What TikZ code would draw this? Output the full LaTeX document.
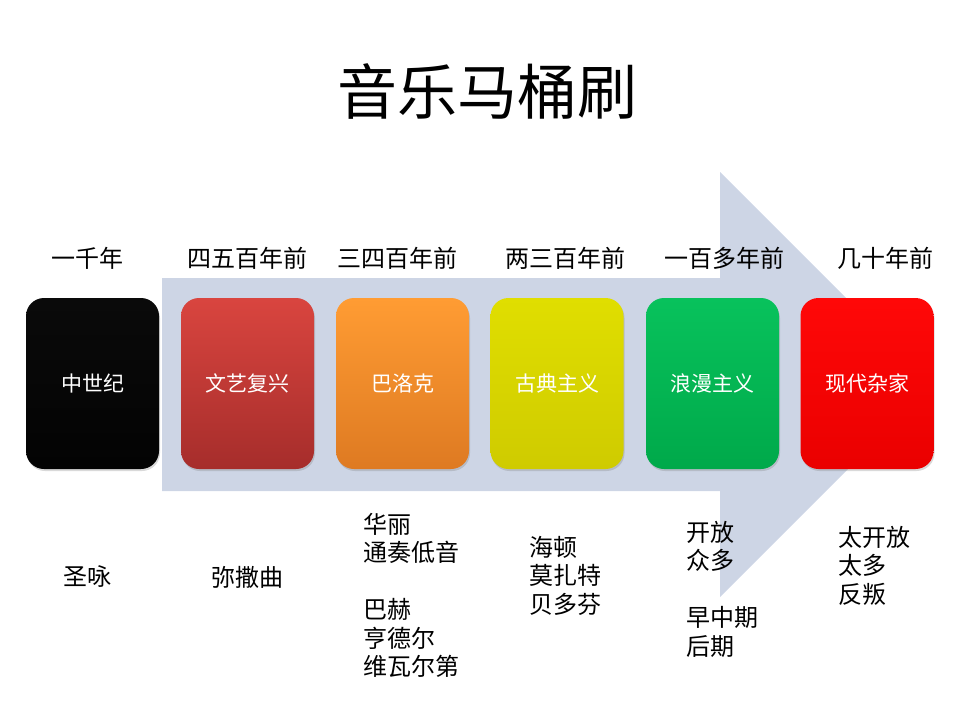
\documentclass[tikz,border=0pt]{standalone}
\usepackage{fontspec}
\setmainfont{Noto Sans CJK SC}
\usetikzlibrary{shadows}
\definecolor{arrowc}{HTML}{CDD5E5}
\definecolor{blkT}{HTML}{0A0A0A}\definecolor{blkB}{HTML}{030303}
\definecolor{redT}{HTML}{D9453F}\definecolor{redB}{HTML}{A62D2B}
\definecolor{orgT}{HTML}{FF9C33}\definecolor{orgB}{HTML}{DE7A22}
\definecolor{yelT}{HTML}{E0DE00}\definecolor{yelB}{HTML}{CFCB00}
\definecolor{grnT}{HTML}{08C25C}\definecolor{grnB}{HTML}{00A94A}
\definecolor{rdT}{HTML}{FF0808}\definecolor{rdB}{HTML}{EA0000}
\begin{document}
\begin{tikzpicture}[x=1pt,y=-1pt,
  period/.style={minimum width=133pt,minimum height=171pt,rounded corners=18pt,
    text=white,font=\fontsize{21}{25}\selectfont,inner sep=0pt,
    drop shadow={opacity=0.3,shadow xshift=1pt,shadow yshift=-2pt}},
  yearlbl/.style={font=\fontsize{24}{28}\selectfont,inner sep=0pt},
  notes/.style={font=\fontsize{24}{28.5}\selectfont,inner sep=0pt,align=left,anchor=north west}]
\useasboundingbox (0,0) rectangle (960,720);
% title
\node[font=\fontsize{60}{70}\selectfont,inner sep=0pt] (title) at (487,91) {音乐马桶刷};
% big arrow
\fill[arrowc] (162,278) -- (720,278) -- (720,172) -- (932.5,384.5) -- (720,597) -- (720,491) -- (162,491) -- cycle;
% boxes
\node[period,top color=blkT,bottom color=blkB] (b1) at (92.5,383.5) {中世纪};
\node[period,top color=redT,bottom color=redB] (b2) at (247.5,383.5) {文艺复兴};
\node[period,top color=orgT,bottom color=orgB] (b3) at (402.5,383.5) {巴洛克};
\node[period,top color=yelT,bottom color=yelB] (b4) at (557,383.5) {古典主义};
\node[period,top color=grnT,bottom color=grnB] (b5) at (712.5,383.5) {浪漫主义};
\node[period,top color=rdT,bottom color=rdB] (b6) at (867,383.5) {现代杂家};
% year labels
\node[yearlbl] (y1) at (87.5,258) {一千年};
\node[yearlbl] (y2) at (247,258) {四五百年前};
\node[yearlbl] (y3) at (397.5,258) {三四百年前};
\node[yearlbl] (y4) at (565.5,258) {两三百年前};
\node[yearlbl] (y5) at (724,258) {一百多年前};
\node[yearlbl] (y6) at (885.5,258) {几十年前};
% notes
\node[yearlbl] (n1) at (87,577) {圣咏};
\node[yearlbl] (n2) at (247,577) {弥撒曲};
\node[notes] (n3) at (363,513) {华丽\\通奏低音\\[28.5pt]巴赫\\亨德尔\\维瓦尔第};
\node[notes] (n4) at (529,536) {海顿\\莫扎特\\贝多芬};
\node[notes] (n5) at (686,521) {开放\\众多\\[28.5pt]早中期\\后期};
\node[notes] (n6) at (838,526) {太开放\\太多\\反叛};
\end{tikzpicture}
\end{document}
